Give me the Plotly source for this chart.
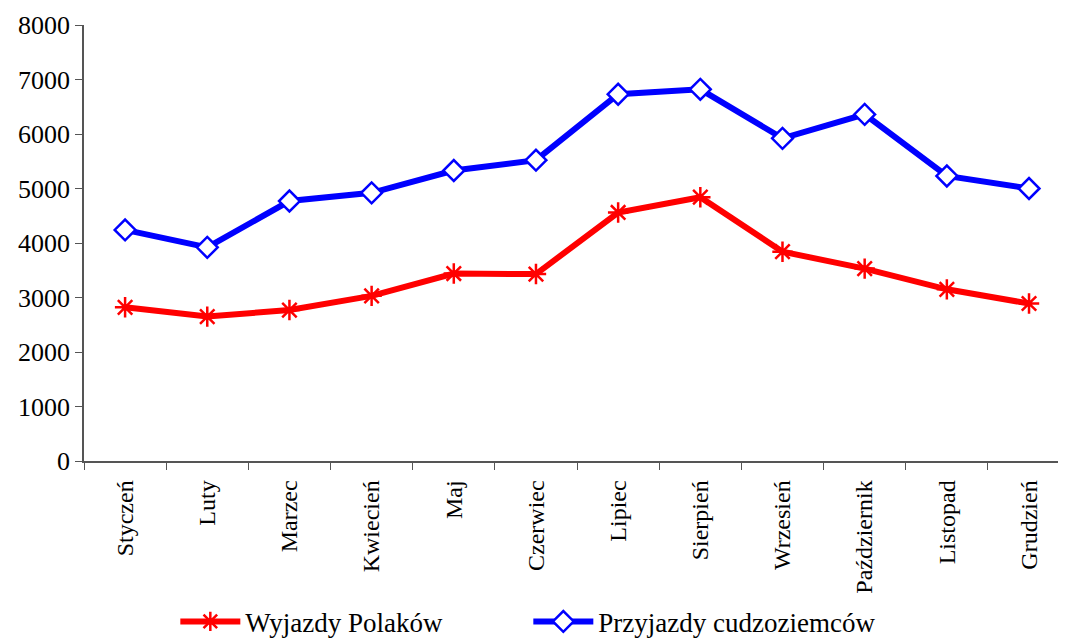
import plotly.graph_objects as go

months = ["Styczeń", "Luty", "Marzec", "Kwiecień", "Maj", "Czerwiec",
          "Lipiec", "Sierpień", "Wrzesień", "Październik", "Listopad", "Grudzień"]
wyjazdy = [2820, 2650, 2770, 3030, 3440, 3430, 4560, 4840, 3840, 3530, 3150, 2890]
przyjazdy = [4240, 3920, 4770, 4920, 5330, 5520, 6730, 6820, 5920, 6360, 5230, 5000]

serif = "Liberation Serif, Times New Roman, serif"

fig = go.Figure()

fig.add_trace(go.Scatter(
    x=months, y=wyjazdy, name="Wyjazdy Polaków",
    mode="lines+markers",
    line=dict(color="#ff0000", width=6),
    marker=dict(symbol="asterisk-open", size=17, color="#ff0000",
                line=dict(color="#ff0000", width=2.5)),
))

fig.add_trace(go.Scatter(
    x=months, y=przyjazdy, name="Przyjazdy cudzoziemców",
    mode="lines+markers",
    line=dict(color="#0000ff", width=6),
    marker=dict(symbol="diamond", size=16, color="white",
                line=dict(color="#0000ff", width=2.5)),
))

# page has an 8px body margin, so the figure is a bit smaller
fig.update_layout(
    width=1058, height=632,
    margin=dict(l=76, r=0, t=17, b=179, autoexpand=False),
    paper_bgcolor="white", plot_bgcolor="white",
    font=dict(family=serif, size=24, color="black"),
    showlegend=True,
    legend=dict(orientation="h", x=0.093, y=-0.369, xanchor="left", yanchor="middle",
                valign="middle",
                font=dict(family=serif, size=27), itemwidth=60,
                entrywidth=278, tracegroupgap=0),
)

fig.update_xaxes(
    range=[-0.5, 11.45], automargin=False,
    tickangle=-90, tickson="boundaries",
    ticks="outside", ticklen=7, tickcolor="#555",
    showline=True, linecolor="#555", linewidth=1.5,
    showgrid=False, zeroline=False,
    ticklabelstandoff=8,
    tickfont=dict(family=serif, size=24),
)

fig.update_yaxes(
    range=[0, 8000], dtick=1000, automargin=False,
    ticks="outside", ticklen=7, tickcolor="#555",
    showline=True, linecolor="#555", linewidth=1.5,
    showgrid=False, zeroline=False,
    tickfont=dict(family=serif, size=26),
)

fig.write_html("out.html")
